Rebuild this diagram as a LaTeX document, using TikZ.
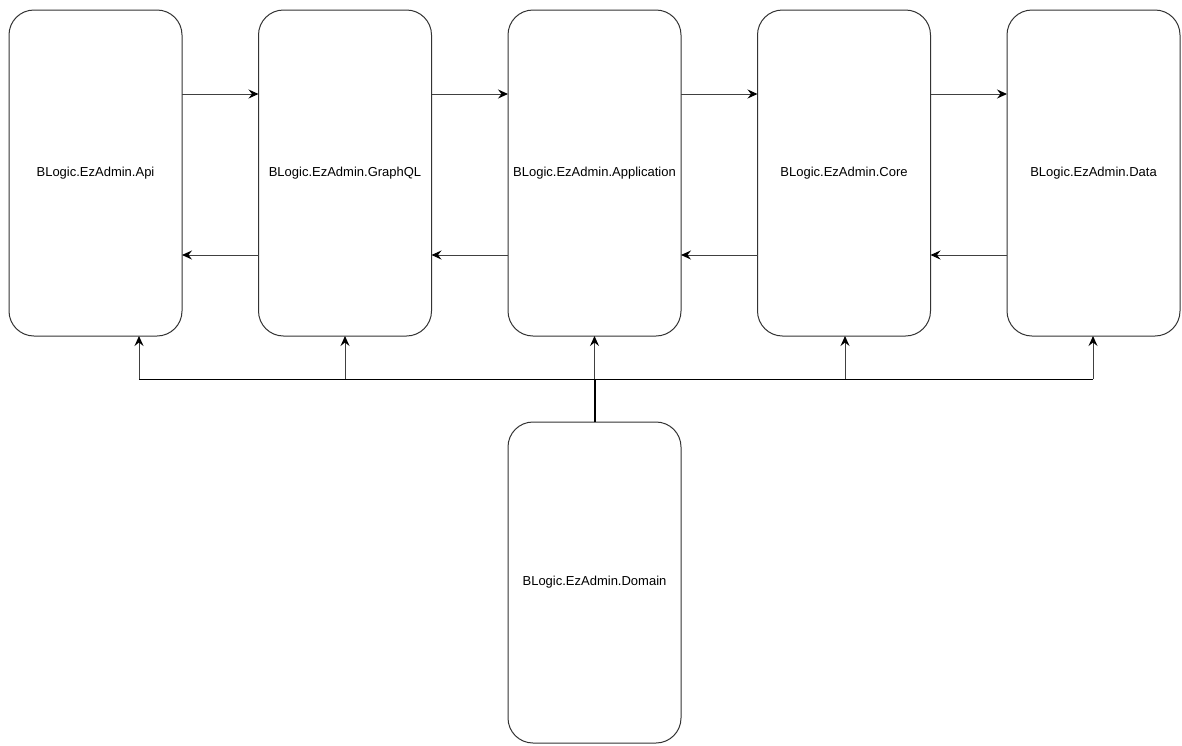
\documentclass[tikz,border=0pt]{standalone}
\usepackage{fontspec}
\setmainfont{Liberation Sans}
\usetikzlibrary{arrows.meta}
\begin{document}
\begin{tikzpicture}[x=1pt,y=-1pt,
  module/.style={draw=black!80, line width=1pt, rounded corners=25pt, fill=white,
    minimum width=173pt, minimum height=326pt, anchor=north west, inner sep=0pt,
    outer sep=0pt, font=\fontsize{13}{15}\selectfont},
  arr/.style={draw=black!75, line width=1pt,
    -{Stealth[length=10pt,width=9pt,inset=3.5pt,black]}},
  busline/.style={draw=black, line width=1pt}]
  \useasboundingbox (0,0) rectangle (1182,745);

  % project modules
  \node[module] (api)  at (9,10)    {BLogic.EzAdmin.Api};
  \node[module] (gql)  at (258.5,10) {BLogic.EzAdmin.GraphQL};
  \node[module] (app)  at (508,10)  {BLogic.EzAdmin.Application};
  \node[module] (core) at (757.5,10) {BLogic.EzAdmin.Core};
  \node[module] (data) at (1007,10) {BLogic.EzAdmin.Data};
  \node[module, minimum height=321pt] (dom) at (508,422) {BLogic.EzAdmin.Domain};

  % request / response levels
  \coordinate (fw) at (0,94);
  \coordinate (bw) at (0,255);

  \foreach \l/\r in {api/gql, gql/app, app/core, core/data} {
    \draw[arr] (\l.east |- fw) -- (\r.west |- fw);
    \draw[arr] (\r.west |- bw) -- (\l.east |- bw);
  }

  % shared domain bus
  \coordinate (b1) at (139,379);
  \coordinate (b2) at (345,379);
  \coordinate (b3) at (594.5,379);
  \coordinate (b4) at (845,379);
  \coordinate (b5) at (1093,379);

  \draw[busline] (b1) -- (b5);
  \draw[draw=black, line width=2pt] (dom.north -| b3) -- (b3);
  \draw[arr] (b1) -- (api.south -| b1);
  \draw[arr] (b2) -- (gql.south -| b2);
  \draw[arr] (b3) -- (app.south -| b3);
  \draw[arr] (b4) -- (core.south -| b4);
  \draw[arr] (b5) -- (data.south -| b5);
\end{tikzpicture}
\end{document}
